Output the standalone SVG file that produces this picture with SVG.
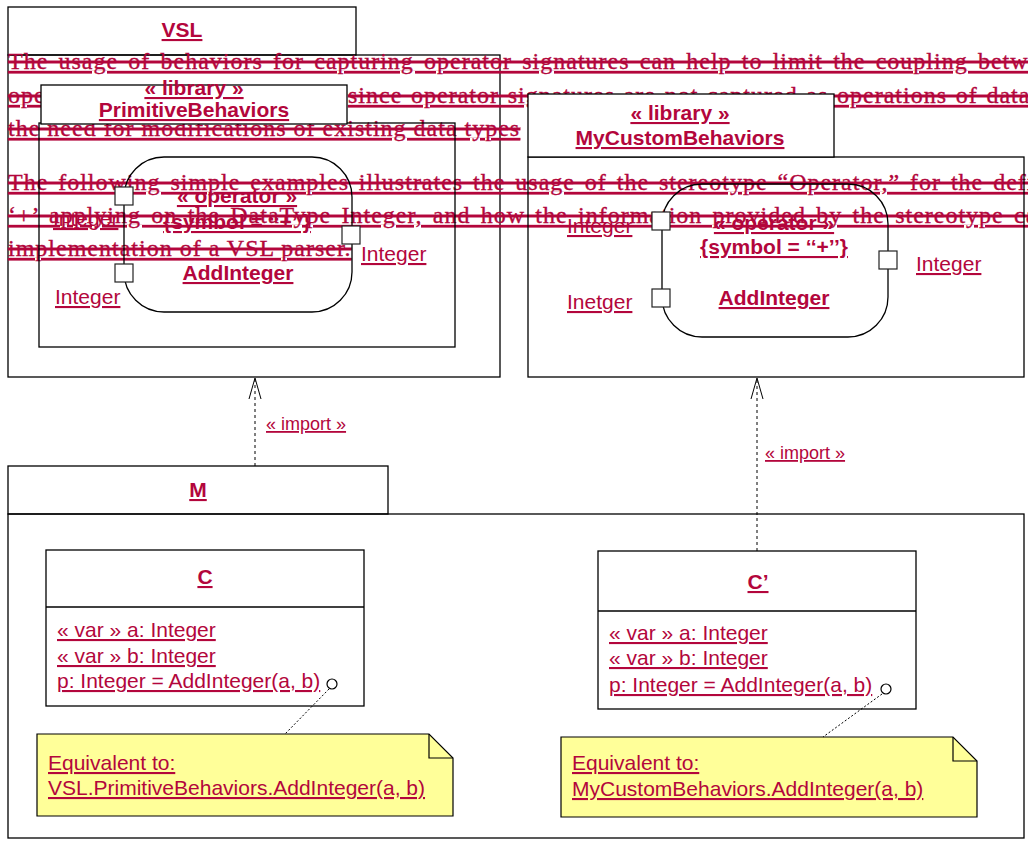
<svg xmlns="http://www.w3.org/2000/svg" width="1028" height="842" viewBox="0 0 1028 842">
<defs>
<style>
.box{fill:none;stroke:#000;stroke-width:1.3}
.wbox{fill:#fff;stroke:#000;stroke-width:1.3}
.port{fill:#fff;stroke:#222;stroke-width:1.2}
.note{fill:#ffff99;stroke:#000;stroke-width:1.2}
.t{font-family:"Liberation Sans",Arial,sans-serif;font-size:21px;fill:#b3063c;text-decoration:underline}
.b{font-weight:bold;text-anchor:middle}
.imp{font-size:18px}
.p{font-family:"Liberation Serif","Times New Roman",serif;font-size:24px;letter-spacing:1px;fill:#b3063c;stroke:#b3063c;stroke-width:0.35;text-decoration:underline line-through;text-decoration-thickness:2px}
.dep{fill:none;stroke:#000;stroke-width:1;stroke-dasharray:3 3}
.dot{fill:none;stroke:#000;stroke-width:1;stroke-dasharray:2 2}
</style>
<marker id="open" markerUnits="userSpaceOnUse" markerWidth="24" markerHeight="16" viewBox="-22 -8 24 16" refX="0" refY="0" orient="auto">
<path d="M -21 -6 L 0 0 L -21 6" fill="none" stroke="#000" stroke-width="1"/>
</marker>
</defs>
<rect width="1028" height="842" fill="#fff"/>

<g id="VSL">
<rect class="box" x="8" y="7" width="348" height="48"/>
<rect class="box" x="8" y="55" width="492" height="322"/>
<text class="t b" x="182" y="37">VSL</text>
</g>

<g id="paragraph">
<text class="p" x="8" y="69" style="word-spacing:3.2px">The usage of behaviors for capturing operator signatures can help to limit the coupling between</text>
<text class="p" x="8" y="103">operators and data types,</text>
<text class="p" x="348" y="103" style="word-spacing:1.7px">since operator signatures are not captured as operations of data</text>
<text class="p" x="8" y="136">the need for modifications of existing data types</text>
<text class="p" x="8" y="190" style="word-spacing:2.9px">The following simple examples illustrates the usage of the stereotype “Operator,” for the definition</text>
<text class="p" x="8" y="223" style="word-spacing:3.3px">‘+’ applying on the DataType Integer, and how the information provided by the stereotype can</text>
<text class="p" x="8" y="256">implementation of a VSL parser.</text>
</g>

<g id="PrimitiveBehaviors">
<rect class="box" x="39" y="123" width="416" height="224"/>
<rect class="wbox" x="41" y="85" width="306" height="39"/>
<text class="t b" x="194" y="95">« library »</text>
<text class="t b" x="194" y="117">PrimitiveBehaviors</text>
</g>

<g id="AddIntegerLeft">
<rect class="box" x="124" y="157" width="228" height="155" rx="40" ry="40"/>
<rect class="port" x="115" y="187" width="18" height="18"/>
<rect class="port" x="115" y="264" width="18" height="18"/>
<rect class="port" x="342" y="226" width="18" height="18"/>
<text class="t b" x="237" y="203">« operator »</text>
<text class="t b" x="237" y="229">{symbol = ‘‘+’’}</text>
<text class="t b" x="238" y="280">AddInteger</text>
<text class="t" x="53" y="226">Integer</text>
<text class="t" x="361" y="261">Integer</text>
<text class="t" x="55" y="304">Integer</text>
</g>

<g id="MyCustomBehaviors">
<rect class="box" x="528" y="157" width="496" height="220"/>
<rect class="wbox" x="528" y="94" width="306" height="63"/>
<text class="t b" x="680" y="120">« library »</text>
<text class="t b" x="680" y="145">MyCustomBehaviors</text>
</g>

<g id="AddIntegerRight">
<rect class="box" x="662" y="184" width="226" height="153" rx="40" ry="40"/>
<rect class="port" x="652" y="212" width="18" height="18"/>
<rect class="port" x="652" y="289" width="18" height="18"/>
<rect class="port" x="879" y="251" width="18" height="18"/>
<text class="t b" x="774" y="230">« operator »</text>
<text class="t b" x="774" y="254">{symbol = ‘‘+’’}</text>
<text class="t b" x="774" y="305">AddInteger</text>
<text class="t" x="567" y="233">Integer</text>
<text class="t" x="567" y="309">Inetger</text>
<text class="t" x="916" y="271">Integer</text>
</g>

<g id="M">
<rect class="box" x="8" y="466" width="380" height="48"/>
<rect class="box" x="8" y="514" width="1016" height="324"/>
<text class="t b" x="198" y="497">M</text>
</g>

<g id="C">
<rect class="wbox" x="46" y="550" width="318" height="156" stroke-width="1.6"/>
<line x1="46" y1="607" x2="364" y2="607" stroke="#000" stroke-width="1.6"/>
<text class="t b" x="205" y="584">C</text>
<text class="t" x="57" y="637">« var » a: Integer</text>
<text class="t" x="57" y="663">« var » b: Integer</text>
<text class="t" x="57" y="688">p: Integer = AddInteger(a, b)</text>
<circle cx="332" cy="684" r="5" fill="#fff" stroke="#000" stroke-width="1.2"/>
</g>

<g id="C2">
<rect class="wbox" x="598" y="551" width="318" height="158" stroke-width="1.6"/>
<line x1="598" y1="611" x2="916" y2="611" stroke="#000" stroke-width="1.6"/>
<text class="t b" x="758" y="589">C’</text>
<text class="t" x="609" y="640">« var » a: Integer</text>
<text class="t" x="609" y="665">« var » b: Integer</text>
<text class="t" x="609" y="692">p: Integer = AddInteger(a, b)</text>
<circle cx="886" cy="689" r="5" fill="#fff" stroke="#000" stroke-width="1.2"/>
</g>

<g id="Note1">
<path class="note" d="M37 734 H429 L453 758 V816 H37 Z"/>
<path d="M429 734 V758 H453" fill="none" stroke="#000" stroke-width="1.2"/>
<text class="t" x="48" y="770">Equivalent to: </text>
<text class="t" x="48" y="795">VSL.PrimitiveBehaviors.AddInteger(a, b)</text>
</g>

<g id="Note2">
<path class="note" d="M561 737 H953 L977 761 V817 H561 Z"/>
<path d="M953 737 V761 H977" fill="none" stroke="#000" stroke-width="1.2"/>
<text class="t" x="572" y="770">Equivalent to: </text>
<text class="t" x="572" y="796">MyCustomBehaviors.AddInteger(a, b)</text>
</g>

<g id="connectors">
<line class="dep" x1="255" y1="466" x2="255" y2="378" marker-end="url(#open)"/>
<text class="t imp" x="266" y="430">« import »</text>
<line class="dep" x1="757" y1="551" x2="757" y2="378" marker-end="url(#open)"/>
<text class="t imp" x="765" y="459">« import »</text>
<line class="dot" x1="329" y1="689" x2="285" y2="734"/>
<line class="dot" x1="882" y1="694" x2="823" y2="737"/>
</g>
</svg>
